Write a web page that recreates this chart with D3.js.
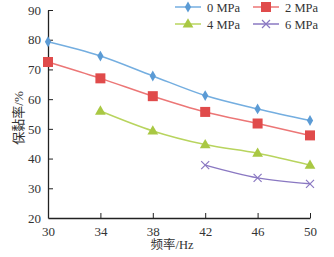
<!DOCTYPE html>
<html>
<head>
<meta charset="utf-8">
<script src="https://cdn.jsdelivr.net/npm/d3@7"></script>
<style>
  body { margin: 0; background: #fff; }
  text { font-family: "Liberation Serif", "Noto Sans CJK SC", serif; fill: #333; }
</style>
</head>
<body>
<div id="chart"></div>
<script>
const freqs = [30, 34, 38, 42, 46, 50];
const yTicks = [20, 30, 40, 50, 60, 70, 80, 90];
const seriesNames = ["0 MPa", "2 MPa", "4 MPa", "6 MPa"];
const mpa0 = [79.3, 74.5, 67.8, 61.2, 56.7, 52.8];
const mpa2 = [72.5, 67.0, 61.0, 55.7, 51.8, 47.8];
const mpa4 = [null, 56.0, 49.3, 44.7, 41.8, 37.8];
const mpa6 = [null, null, null, 37.8, 33.5, 31.5];

const colors = ["#5b9bd5", "#e04b4b", "#a9c843", "#8a78c2"];
const lineColors = ["#74aee0", "#ec7676", "#b8d45e", "#8a78c2"];
const shapes = ["diamond", "square", "triangle", "cross"];

const width = 334, height = 257;
const margin = {left: 48, right: 24, top: 10, bottom: 39};

const svg = d3.select("#chart").append("svg")
    .attr("width", width).attr("height", height);

const x = d3.scaleLinear().domain([30, 50]).range([margin.left, width - margin.right]);
const y = d3.scaleLinear().domain([20, 90]).range([height - margin.bottom, margin.top]);

//////////////////////////////////////////////////////
// AXES
//////////////////////////////////////////////////////

const xAxis = svg.append("g")
    .attr("transform", `translate(0,${y(20)})`)
    .call(d3.axisBottom(x).tickValues(freqs).tickSizeInner(-5).tickSizeOuter(0).tickPadding(9));

const yAxis = svg.append("g")
    .attr("transform", `translate(${x(30)},0)`)
    .call(d3.axisLeft(y).tickValues(yTicks).tickSizeInner(-5).tickSizeOuter(0).tickPadding(7));

[xAxis, yAxis].forEach(g => {
    g.select(".domain").attr("stroke", "#222").attr("stroke-width", 1.3);
    g.selectAll(".tick line").attr("stroke", "#222");
    g.selectAll("text").style("font-size", "13px").attr("fill", "#333")
        .style("font-family", "'Liberation Serif', serif");
});
// no tick marks at the corner
xAxis.selectAll(".tick line").filter(d => d === 30).remove();
yAxis.selectAll(".tick line").filter(d => d === 20).remove();

svg.append("text")
    .attr("x", 172)
    .attr("y", height - 8)
    .attr("text-anchor", "middle")
    .style("font-size", "12.5px")
    .text("频率/Hz");

svg.append("text")
    .attr("transform", "rotate(-90)")
    .attr("x", -118)
    .attr("y", 23)
    .attr("text-anchor", "middle")
    .style("font-size", "13px")
    .text("保黏率/%");

//////////////////////////////////////////////////////
// LINES + MARKERS
//////////////////////////////////////////////////////

const allSeries = [mpa0, mpa2, mpa4, mpa6];

function drawMarker(g, shape, color, cx, cy) {
    if (shape === "diamond") {
        g.append("path").attr("d", d3.symbol(d3.symbolDiamond, 34)())
            .attr("transform", `translate(${cx},${cy})`).attr("fill", color);
    } else if (shape === "square") {
        g.append("rect").attr("x", cx - 5).attr("y", cy - 5)
            .attr("width", 10).attr("height", 10).attr("fill", color);
    } else if (shape === "triangle") {
        g.append("path").attr("d", d3.symbol(d3.symbolTriangle, 50)())
            .attr("transform", `translate(${cx},${cy + 0.5})`).attr("fill", color);
    } else {
        g.append("path").attr("d", `M${cx-4},${cy-4}L${cx+4},${cy+4}M${cx-4},${cy+4}L${cx+4},${cy-4}`)
            .attr("stroke", color).attr("stroke-width", 1.2).attr("fill", "none");
    }
}

const line = d3.line()
    .x(d => x(d.f))
    .y(d => y(d.v))
    .curve(d3.curveMonotoneX);

allSeries.forEach((vals, i) => {
    const pts = freqs.map((f, j) => ({f: f, v: vals[j]})).filter(d => d.v !== null);
    svg.append("path")
        .datum(pts)
        .attr("d", line)
        .attr("fill", "none")
        .attr("stroke", lineColors[i])
        .attr("stroke-width", 1.5);
    const g = svg.append("g");
    pts.forEach(p => drawMarker(g, shapes[i], colors[i], x(p.f), y(p.v)));
});

//////////////////////////////////////////////////////
// LEGEND
//////////////////////////////////////////////////////

const legendPos = [[175, 7], [253, 7], [175, 24], [253, 24]];
seriesNames.forEach((name, i) => {
    const [lx, ly] = legendPos[i];
    const g = svg.append("g");
    g.append("line").attr("x1", lx).attr("x2", lx + 26).attr("y1", ly).attr("y2", ly)
        .attr("stroke", lineColors[i]).attr("stroke-width", 1.5);
    drawMarker(g, shapes[i], colors[i], lx + 13, ly);
    g.append("text").attr("x", lx + 32).attr("y", ly + 4.5)
        .style("font-size", "12.5px").text(name);
});
</script>
</body>
</html>
